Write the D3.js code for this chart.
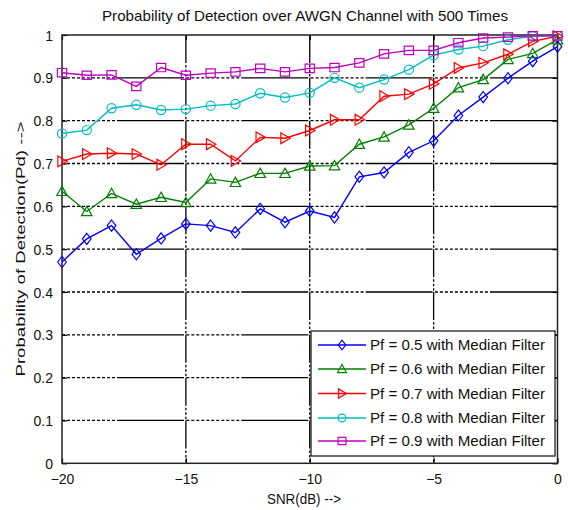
<!DOCTYPE html>
<html>
<head>
<meta charset="utf-8">
<script src="https://cdn.jsdelivr.net/npm/d3@7"></script>
<style>
  html, body { margin: 0; padding: 0; background: #fff; }
  svg { display: block; }
  text { font-family: "Liberation Sans", Arial, sans-serif; fill: #111; }
</style>
</head>
<body>
<svg id="chart" width="568" height="510"></svg>
<script>
// ---------- data ----------
const snr = [-20, -19, -18, -17, -16, -15, -14, -13, -12, -11, -10, -9, -8, -7, -6, -5, -4, -3, -2, -1, 0];
const pf05 = [0.470, 0.524, 0.555, 0.488, 0.525, 0.559, 0.555, 0.539, 0.594, 0.563, 0.589, 0.574, 0.669, 0.679, 0.726, 0.753, 0.812, 0.855, 0.899, 0.939, 0.973];
const pf06 = [0.635, 0.588, 0.630, 0.605, 0.621, 0.609, 0.664, 0.656, 0.677, 0.677, 0.694, 0.695, 0.745, 0.762, 0.790, 0.829, 0.877, 0.896, 0.943, 0.957, 0.989];
const pf07 = [0.705, 0.722, 0.724, 0.722, 0.697, 0.745, 0.745, 0.706, 0.761, 0.759, 0.777, 0.802, 0.802, 0.857, 0.862, 0.886, 0.923, 0.935, 0.955, 0.985, 0.997];
const pf08 = [0.770, 0.778, 0.829, 0.837, 0.825, 0.827, 0.835, 0.839, 0.864, 0.854, 0.865, 0.900, 0.877, 0.896, 0.919, 0.953, 0.966, 0.974, 0.989, 0.997, 0.998];
const pf09 = [0.912, 0.906, 0.907, 0.880, 0.924, 0.906, 0.911, 0.914, 0.922, 0.914, 0.922, 0.924, 0.935, 0.956, 0.964, 0.964, 0.982, 0.993, 0.995, 0.998, 0.998];
const seriesNames = ["Pf = 0.5 with Median Filter", "Pf = 0.6 with Median Filter", "Pf = 0.7 with Median Filter", "Pf = 0.8 with Median Filter", "Pf = 0.9 with Median Filter"];
const seriesColors = ["#0000ff", "#008000", "#ff0000", "#00bfbf", "#bf00bf"];
const seriesMarkers = ["diamond", "triangleUp", "triangleRight", "circle", "square"];
const xTicks = [-20, -15, -10, -5, 0];
const yTicks = [0, 0.1, 0.2, 0.3, 0.4, 0.5, 0.6, 0.7, 0.8, 0.9, 1];
const titleText = "Probability of Detection over AWGN Channel with 500 Times";
const xLabel = "SNR(dB) -->";
const yLabel = "Probability of Detection(Pd) -->";

const seriesValues = [pf05, pf06, pf07, pf08, pf09];

// ---------- layout ----------
const svg = d3.select("#chart");
const L = 62, R = 557.5, T = 35, B = 463.3;
const x = d3.scaleLinear().domain([-20, 0]).range([L, R]);
const y = d3.scaleLinear().domain([0, 1]).range([B, T]);

// ---------- grid ----------
const hDash = Array(11).fill("3,2").join(",") + ",67,2.3";
const vDash = "28,2,2.5,2,2.5,2,2.5,1.33";
const grid = svg.append("g");
grid.selectAll("line.h").data(yTicks.slice(1, -1)).enter().append("line")
  .attr("x1", L).attr("x2", R).attr("y1", d => y(d)).attr("y2", d => y(d))
  .attr("stroke", "#000").attr("stroke-width", 1.3).attr("stroke-dasharray", hDash);
grid.selectAll("line.v").data(xTicks.slice(1, -1)).enter().append("line")
  .attr("x1", d => x(d)).attr("x2", d => x(d)).attr("y1", T).attr("y2", B)
  .attr("stroke", "#000").attr("stroke-width", 1.3).attr("stroke-dasharray", vDash);

// ---------- axes (MATLAB style, ticks inside on all four sides) ----------
const tickLen = 5;
const fmtY = d => (d === 0 || d === 1) ? String(d) : d.toFixed(1);
const axL = svg.append("g").attr("transform", `translate(${L},0)`)
  .call(d3.axisLeft(y).tickValues(yTicks).tickFormat(fmtY).tickSizeInner(-tickLen).tickSizeOuter(0).tickPadding(9));
const axR = svg.append("g").attr("transform", `translate(${R},0)`)
  .call(d3.axisRight(y).tickValues(yTicks).tickFormat("").tickSizeInner(-tickLen).tickSizeOuter(0));
const axB = svg.append("g").attr("transform", `translate(0,${B})`)
  .call(d3.axisBottom(x).tickValues(xTicks).tickFormat(d3.format("d")).tickSizeInner(-tickLen).tickSizeOuter(0).tickPadding(11));
const axT = svg.append("g").attr("transform", `translate(0,${T})`)
  .call(d3.axisTop(x).tickValues(xTicks).tickFormat("").tickSizeInner(-tickLen).tickSizeOuter(0));
[axL, axR, axB, axT].forEach(a => {
  a.select(".domain").remove();
  a.selectAll(".tick line").attr("stroke", "#000").attr("stroke-width", 1.2);
  a.selectAll(".tick text").attr("font-size", 14).attr("fill", "#111")
    .attr("font-family", "'Liberation Sans', Arial, sans-serif");
});
axL.selectAll(".tick text").attr("dy", "0.36em");

// frame
svg.append("rect").attr("x", L).attr("y", T).attr("width", R - L).attr("height", B - T)
  .attr("fill", "none").attr("stroke", "#222").attr("stroke-width", 1.5);

// ---------- markers ----------
function markerPath(kind, s) {
  const p = d3.path();
  if (kind === "diamond") {
    const w = 4.3 * s, h = 5.6 * s;
    p.moveTo(0, -h); p.lineTo(w, 0); p.lineTo(0, h); p.lineTo(-w, 0); p.closePath();
  } else if (kind === "triangleUp") {
    const w = 5.2 * s, h = 5.2 * s;
    p.moveTo(0, -h); p.lineTo(w, h * 0.8); p.lineTo(-w, h * 0.8); p.closePath();
  } else if (kind === "triangleRight") {
    const w = 5.2 * s, h = 5.4 * s;
    p.moveTo(w, 0); p.lineTo(-w * 0.8, h); p.lineTo(-w * 0.8, -h); p.closePath();
  } else if (kind === "circle") {
    p.arc(0, 0, 4.6 * s, 0, 2 * Math.PI); p.closePath();
  } else if (kind === "square") {
    const a = 4.6 * s, b = 4.2 * s;
    p.rect(-a, -b, 2 * a, 2 * b);
  }
  return p.toString();
}

// ---------- series ----------
const line = d3.line().x(d => x(d[0])).y(d => y(d[1]));
const plot = svg.append("g");
seriesValues.forEach((vals, i) => {
  const pts = snr.map((s, j) => [s, vals[j]]);
  const g = plot.append("g");
  g.append("path").datum(pts).attr("d", line)
    .attr("fill", "none").attr("stroke", seriesColors[i]).attr("stroke-width", 1.4);
  g.selectAll("path.m").data(pts).enter().append("path").attr("class", "m")
    .attr("transform", d => `translate(${x(d[0])},${y(d[1])})`)
    .attr("d", markerPath(seriesMarkers[i], 1))
    .attr("fill", "none").attr("stroke", seriesColors[i]).attr("stroke-width", 1.2);
});

// ---------- legend ----------
const lg = svg.append("g");
lg.append("rect").attr("x", 311).attr("y", 331).attr("width", 244).attr("height", 125)
  .attr("fill", "#fff").attr("stroke", "#222").attr("stroke-width", 1.3);
const rowY = [345, 369, 393.5, 418, 441];
seriesNames.forEach((name, i) => {
  const ry = rowY[i];
  lg.append("line").attr("x1", 318).attr("x2", 366).attr("y1", ry).attr("y2", ry)
    .attr("stroke", seriesColors[i]).attr("stroke-width", 1.4);
  lg.append("path").attr("transform", `translate(342,${ry})`)
    .attr("d", markerPath(seriesMarkers[i], 0.85))
    .attr("fill", "none").attr("stroke", seriesColors[i]).attr("stroke-width", 1.2);
  lg.append("text").attr("x", 370).attr("y", ry).attr("dy", "0.36em")
    .attr("font-size", 15).attr("textLength", 175).attr("lengthAdjust", "spacingAndGlyphs")
    .text(name);
});

// ---------- titles ----------
svg.append("text").attr("x", 305).attr("y", 21).attr("text-anchor", "middle")
  .attr("font-size", 14.5).attr("textLength", 406).attr("lengthAdjust", "spacingAndGlyphs")
  .text(titleText);
svg.append("text").attr("x", 304).attr("y", 504).attr("text-anchor", "middle")
  .attr("font-size", 14).attr("textLength", 74).attr("lengthAdjust", "spacingAndGlyphs")
  .text(xLabel);
svg.append("text").attr("transform", "translate(25,249) rotate(-90)").attr("text-anchor", "middle")
  .attr("font-size", 12.5).attr("fill", "#333").attr("textLength", 255).attr("lengthAdjust", "spacingAndGlyphs")
  .text(yLabel);
</script>
</body>
</html>
